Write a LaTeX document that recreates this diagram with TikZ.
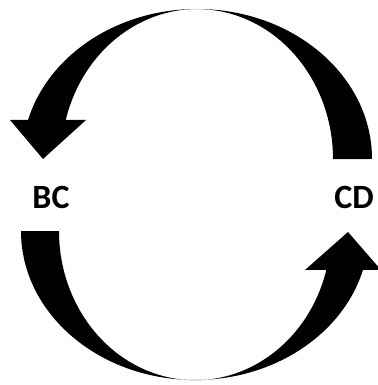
\documentclass[tikz,border=0pt]{standalone}
\usepackage{fontspec}
\setmainfont{Carlito}
\usepackage{tikz}

\begin{document}
\begin{tikzpicture}[x=1pt,y=1pt,
  every node/.style={inner sep=0pt,font=\fontsize{34}{40}\selectfont\bfseries},
  bentarrow/.style={fill=black,draw=none}]
\useasboundingbox (0,0) rectangle (377,385);
\node (bc) at (51,187.5) {BC};
\node (cd) at (354,187.5) {CD};
% upper arrow, from CD round to BC
\fill[bentarrow] (372,226) arc[start angle=0,end angle=164.9,x radius=175,y radius=150]
  -- (10,265) -- (43,226) -- (86,265) -- (65.7,265)
  arc[start angle=164.9,end angle=0,x radius=136,y radius=150] -- cycle;
% lower arrow, from BC round to CD
\fill[bentarrow] (21,154) arc[start angle=180,end angle=344.9,x radius=174,y radius=149]
  -- (381,115) -- (348,153) -- (305,115) -- (326.3,115)
  arc[start angle=344.9,end angle=180,x radius=136,y radius=149] -- cycle;
\end{tikzpicture}
\end{document}
